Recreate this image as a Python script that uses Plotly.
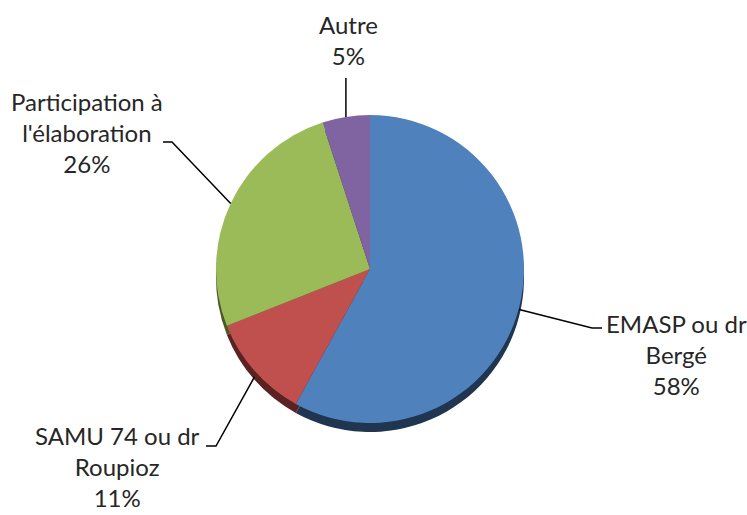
import math
import plotly.graph_objects as go

labels = ["EMASP ou dr Bergé", "SAMU 74 ou dr Roupioz", "Participation à l'élaboration", "Autre"]
label_text = ["EMASP ou dr<br>Bergé", "SAMU 74 ou dr<br>Roupioz", "Participation à<br>l'élaboration", "Autre"]
values = [58, 11, 26, 5]
colors = ["#4F81BD", "#C0504D", "#9BBB59", "#8064A2"]
dark_colors = ["#1F3550", "#5A2220", "#4A5A28", "#3E2F52"]

W, H = 747, 515
CX, CY, R = 370, 269, 154
DEPTH = 9

def px(x):
    return x / W

def py(y):
    return 1 - y / H

def domain(cy):
    return dict(x=[px(CX - R), px(CX + R)], y=[py(cy + R), py(cy - R)])

fig = go.Figure()
# 3D rim (shifted copy underneath)
fig.add_trace(go.Pie(labels=labels, values=values, sort=False, direction="clockwise",
                     rotation=0, marker=dict(colors=dark_colors, line=dict(width=0)),
                     textinfo="none", hoverinfo="skip", domain=domain(CY + DEPTH),
                     showlegend=False))
fig.add_trace(go.Pie(labels=labels, values=values, sort=False, direction="clockwise",
                     rotation=0, marker=dict(colors=colors, line=dict(width=0)),
                     textinfo="none", domain=domain(CY), showlegend=False))

# label placement (text block center, elbow point, line end near text)
label_layout = [
    dict(tx=676, ty=354, elbow=(592, 328), end=(602, 328)),
    dict(tx=117, ty=466, elbow=(216, 446), end=(206, 446)),
    dict(tx=87, ty=132, elbow=(172, 142), end=(163, 142)),
    dict(tx=348, ty=40, elbow=None, end=(345, 78)),
]

total = sum(values)
cum = 0
annotations = []
shapes = []
for i, v in enumerate(values):
    mid = (cum + v / 2) / total * 2 * math.pi
    cum += v
    ex = CX + R * math.sin(mid)
    ey = CY - R * math.cos(mid)
    if math.cos(mid) < 0:
        ey += DEPTH * (-math.cos(mid))
    L = label_layout[i]
    pct = f"{round(v / total * 100)}%"
    annotations.append(dict(x=px(L["tx"]), y=py(L["ty"]), xref="paper", yref="paper",
                            text=f"{label_text[i]}<br>{pct}", showarrow=False,
                            align="center", xanchor="center", yanchor="middle",
                            font=dict(family="Lato", size=24, color="#262626")))
    if L["elbow"] is None:
        path = f"M {px(ex)} {py(ey)} L {px(ex)} {py(L['end'][1])}"
    else:
        path = (f"M {px(ex)} {py(ey)} L {px(L['elbow'][0])} {py(L['elbow'][1])} "
                f"L {px(L['end'][0])} {py(L['end'][1])}")
    shapes.append(dict(type="path", path=path, xref="paper", yref="paper",
                       line=dict(color="#000000", width=1.5)))

fig.update_layout(width=W, height=H, margin=dict(l=0, r=0, t=0, b=0),
                  paper_bgcolor="white", plot_bgcolor="white",
                  annotations=annotations, shapes=shapes)

fig.write_html("out.html", config={"displayModeBar": False},
               post_script="document.body.style.margin='0';")
